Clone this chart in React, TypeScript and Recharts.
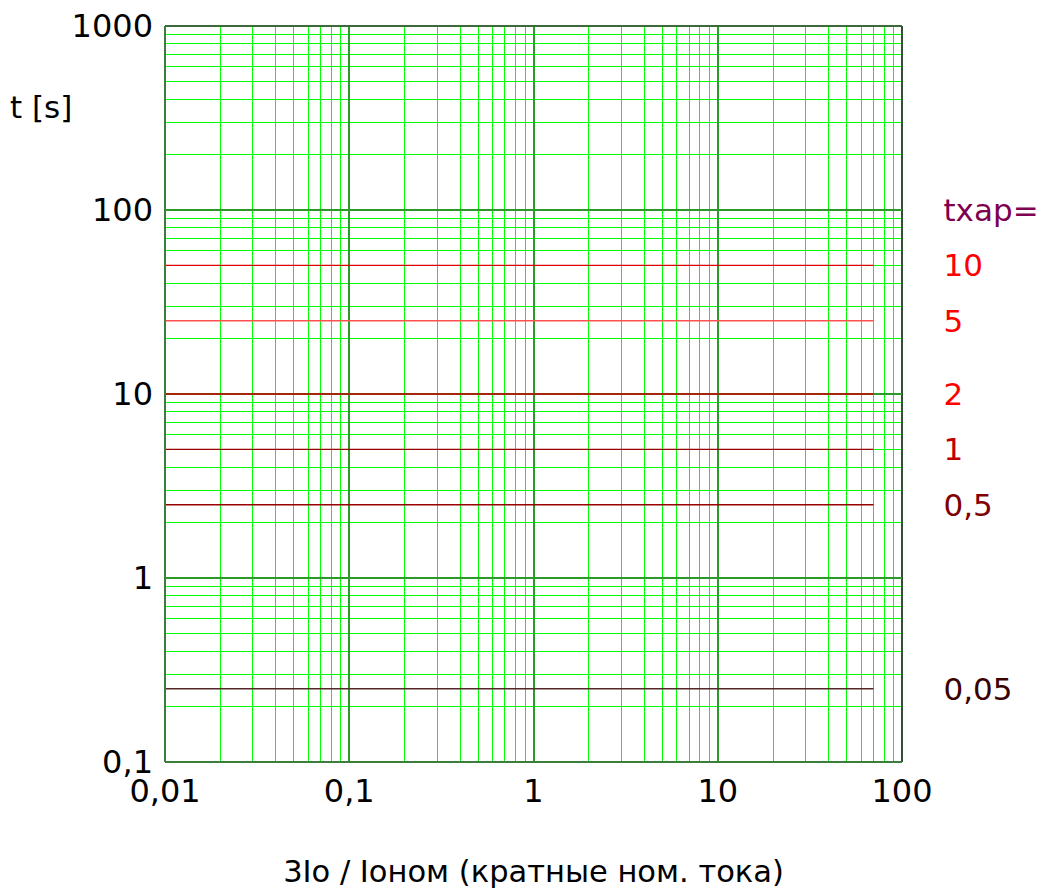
import {
  Line,
  LineChart,
  ReferenceDot,
  ReferenceLine,
  XAxis,
  YAxis,
} from "recharts";

// curve levels
const TXAP_LABELS = ["10", "5", "2", "1", "0,5", "0,05"];
const T_LEVELS = [50, 25, 10, 5, 2.5, 0.25];
const LINE_COLORS = ["#dd0000", "#ff5050", "#cc0000", "#990000", "#990000", "#552828"];
const LABEL_COLORS = ["#ff0000", "#ff0000", "#ff0000", "#c00000", "#800000", "#3a0000"];
const X_START = 0.01;
const X_END = 70;

const X_TICKS = [0.01, 0.1, 1, 10, 100];
const Y_TICKS = [0.1, 1, 10, 100, 1000];
const MINOR_STEPS = [2, 3, 4, 5, 6, 7, 8, 9];
const X_DECADES = [0.01, 0.1, 1, 10];
const Y_DECADES = [0.1, 1, 10, 100];

const minorOf = (decades: number[]) =>
  decades.flatMap((d) => MINOR_STEPS.map((m) => Number((m * d).toPrecision(2))));

const TICK_FONT = 32;
const FONT = 31;
const MINOR = "#00ff00";
const MAJOR = "#2a9a2a";
const fmt = (v: number) => String(v).replace(".", ",");

export default function App() {
  return (
    <div>
      <style>{`body{margin:0} .recharts-reference-line line{shape-rendering:crispEdges}`}</style>
      <LineChart
        width={1042}
        height={893}
        margin={{ top: 26, right: 140, left: 0, bottom: 0 }}
        style={{ fontFamily: "DejaVu Sans" }}
      >
        <XAxis
          type="number"
          dataKey="x"
          scale="log"
          domain={[0.01, 100]}
          ticks={X_TICKS}
          tickFormatter={fmt}
          allowDataOverflow
          tickLine={false}
          tickSize={0}
          tickMargin={17}
          axisLine={{ stroke: "#3b7d3b", strokeWidth: 2 }}
          tick={{ fill: "#000", fontSize: TICK_FONT }}
          height={131}
          label={{
            value: "3Io / Ioном (кратные ном. тока)",
            position: "insideBottom",
            offset: 11,
            fill: "#000",
            fontSize: 30.5,
          }}
        />
        <YAxis
          type="number"
          dataKey="t"
          scale="log"
          domain={[0.1, 1000]}
          ticks={Y_TICKS}
          tickFormatter={fmt}
          allowDataOverflow
          tickLine={false}
          tickSize={0}
          tickMargin={12}
          axisLine={{ stroke: "#3b7d3b", strokeWidth: 2 }}
          tick={{ fill: "#000", fontSize: TICK_FONT }}
          width={165}
          label={{
            value: "t [s]",
            position: "insideTopLeft",
            offset: 10,
            dy: 60,
            fill: "#000",
            fontSize: FONT,
          }}
        />
        {minorOf(X_DECADES).map((v) => (
          <ReferenceLine key={"mx" + v} x={v} stroke={MINOR} strokeWidth={1} />
        ))}
        {minorOf(Y_DECADES).map((v) => (
          <ReferenceLine key={"my" + v} y={v} stroke={MINOR} strokeWidth={1} />
        ))}
        {X_TICKS.map((v) => (
          <ReferenceLine
            key={"Mx" + v}
            x={v}
            stroke={v === 100 ? "#2f4f2f" : MAJOR}
            strokeWidth={2}
          />
        ))}
        {Y_TICKS.map((v) => (
          <ReferenceLine
            key={"My" + v}
            y={v}
            stroke={v === 1000 ? "#3a6a3a" : MAJOR}
            strokeWidth={v === 1000 ? 2 : 1.5}
          />
        ))}
        {T_LEVELS.map((t, i) => (
          <Line
            key={TXAP_LABELS[i]}
            data={[
              { x: X_START, t },
              { x: X_END, t },
            ]}
            dataKey="t"
            stroke={LINE_COLORS[i]}
            strokeWidth={1.4}
            dot={false}
            isAnimationActive={false}
          />
        ))}
        {T_LEVELS.map((t, i) => (
          <ReferenceDot
            key={"l" + i}
            x={X_END}
            y={t}
            r={0}
            fill="none"
            stroke="none"
            label={{
              value: TXAP_LABELS[i],
              position: "right",
              offset: 70,
              fill: LABEL_COLORS[i],
              fontSize: FONT,
            }}
          />
        ))}
        <ReferenceDot
          x={X_END}
          y={100}
          r={0}
          fill="none"
          stroke="none"
          label={{
            value: "txap=",
            position: "right",
            offset: 70,
            fill: "#800050",
            fontSize: FONT,
          }}
        />
      </LineChart>
    </div>
  );
}
